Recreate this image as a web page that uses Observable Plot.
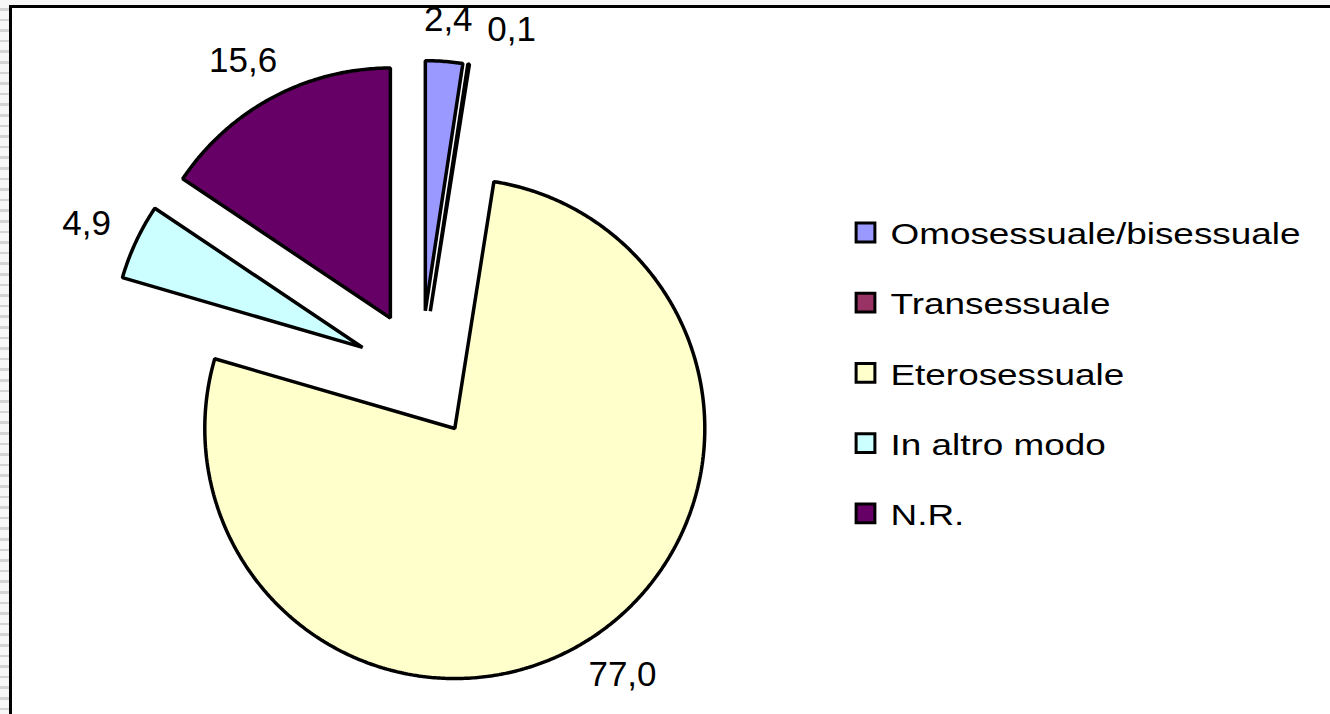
<!DOCTYPE html>
<html>
<head>
<meta charset="utf-8">
<script src="https://cdn.jsdelivr.net/npm/d3@7"></script>
<script src="https://cdn.jsdelivr.net/npm/@observablehq/plot@0.6"></script>
<style>
  html, body { margin: 0; padding: 0; overflow: hidden; width: 1330px; height: 714px; }
  body {
    background-color: #f2f2f2;
    background-image: repeating-linear-gradient(to bottom, #f7f7f7 0px, #f7f7f7 8px, #d4d4d4 8px, #d4d4d4 10.6px);
    position: relative;
  }
  #frame {
    position: absolute; left: 9px; top: 5px; width: 2000px; height: 2000px;
    border: 3px solid #000; background: #fff;
  }
  #chart { position: absolute; left: 0; top: 0; }
</style>
</head>
<body>
<div id="frame"></div>
<div id="chart"></div>
<script>
// ---- data ----
const categories = ["Omosessuale/bisessuale", "Transessuale", "Eterosessuale", "In altro modo", "N.R."];
const values = [2.4, 0.1, 77.0, 4.9, 15.6];
const valueLabels = ["2,4", "0,1", "77,0", "4,9", "15,6"];
const colors = ["#9999FF", "#993366", "#FFFFCC", "#CCFFFF", "#660066"];

// ---- geometry (pixel space) ----
const W = 1330, H = 714;
const cx = 420, cy = 374, R = 250, explode = 64;
const total = d3.sum(values);
const deg = Math.PI / 180;

let acc = 0;
const slices = values.map((v, i) => {
  const a0 = acc / total * 2 * Math.PI;
  acc += v;
  const a1 = acc / total * 2 * Math.PI;
  return {cat: categories[i], a0, a1, mid: (a0 + a1) / 2, label: valueLabels[i]};
});

// polygon outline of each exploded slice
const poly = [];
for (const s of slices) {
  const ox = cx + explode * Math.sin(s.mid), oy = cy - explode * Math.cos(s.mid);
  poly.push({cat: s.cat, x: ox, y: oy});
  const n = Math.max(2, Math.ceil((s.a1 - s.a0) / (0.5 * deg)));
  for (let k = 0; k <= n; k++) {
    const a = s.a0 + (s.a1 - s.a0) * k / n;
    poly.push({cat: s.cat, x: ox + R * Math.sin(a), y: oy - R * Math.cos(a)});
  }
}

// data labels outside each slice, nudged clockwise if they collide
const labelFont = 35, labelH = 26, Rp = 343;
const placed = [];
for (const s of slices) {
  const w = s.label.length * 0.5 * labelFont * 0.97;
  let a = s.mid, pos;
  for (let tries = 0; tries < 80; tries++) {
    const dx = Math.sin(a), dy = -Math.cos(a);
    const x = cx + Rp * dx + dx * w / 2, y = cy + Rp * dy + dy * labelH / 2;
    pos = {x, y, x0: x - w / 2, x1: x + w / 2, y0: y - labelH / 2, y1: y + labelH / 2};
    const hit = placed.some(p => pos.x0 < p.x1 + 12 && pos.x1 > p.x0 - 12 && pos.y0 < p.y1 && pos.y1 > p.y0);
    if (!hit) break;
    a += 0.5 * deg;
  }
  placed.push({...pos, text: s.label});
}

const legend = categories.map((c, i) => ({cat: c, i}));

const plot = Plot.plot({
  width: W, height: H, margin: 0,
  style: {background: "transparent", overflow: "visible"},
  x: {domain: [0, W], range: [0, W], axis: null},
  y: {domain: [0, H], range: [0, H], axis: null},
  color: {domain: categories, range: colors},
  marks: [
    Plot.line(poly, {x: "x", y: "y", z: "cat", fill: "cat", stroke: "black", strokeWidth: 3.5,
      curve: "linear-closed", strokeLinejoin: "miter"}),
    Plot.text(placed, {x: "x", y: "y", text: "text", fontSize: labelFont,
      fontFamily: "Liberation Sans, Arial, sans-serif", fill: "black"}),
    Plot.dot(legend, {x: () => 865, y: d => 232 + d.i * 70.2, symbol: "square", r: 10.6,
      fill: "cat", stroke: "black", strokeWidth: 3}),
    Plot.text(legend, {x: () => 890, y: d => 234 + d.i * 70.2, text: "cat", textAnchor: "start",
      fontSize: 30, fontFamily: "Liberation Sans, Arial, sans-serif", fill: "black"})
  ]
});
// legend glyphs in the reference are drawn horizontally stretched
const textGroups = plot.querySelectorAll('g[aria-label="text"]');
for (const t of textGroups[textGroups.length - 1].querySelectorAll("text")) {
  const tr = t.getAttribute("transform") || "";
  t.setAttribute("transform", tr + " scale(1.23,1)");
}
document.getElementById("chart").appendChild(plot);
</script>
</body>
</html>
